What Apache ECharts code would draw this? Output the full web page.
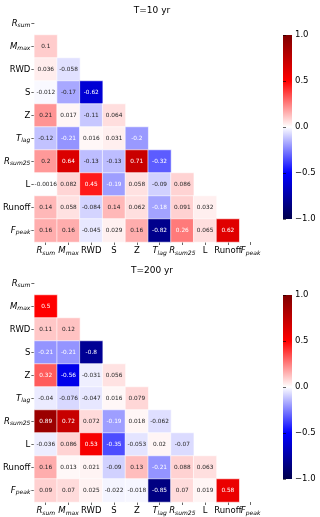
<!DOCTYPE html>
<html>
<head>
<meta charset="utf-8">
<script src="https://cdn.jsdelivr.net/npm/echarts@6/dist/echarts.min.js"></script>
<style>
  html, body { margin: 0; padding: 0; background: #fff; }
  #chart { width: 320px; height: 517px; }
</style>
</head>
<body>
<div id="chart"></div>
<script>
// variable names, rows of the lower triangle (row i holds columns 0..i-1)
const vars = ["R_sum", "M_max", "RWD", "S", "Z", "T_lag", "R_sum25", "L", "Runoff", "F_peak"];
const titles = ["T=10 yr", "T=200 yr"];
const cbTicks = [-1, -0.5, 0, 0.5, 1];

const corr10 = [
  [],
  [0.1],
  [0.036, -0.058],
  [-0.012, -0.17, -0.62],
  [0.21, 0.017, -0.11, 0.064],
  [-0.12, -0.21, 0.016, 0.031, -0.2],
  [0.2, 0.64, -0.13, -0.13, 0.71, -0.32],
  [-0.0016, 0.082, 0.45, -0.19, 0.058, -0.09, 0.086],
  [0.14, 0.058, -0.084, 0.14, 0.062, -0.18, 0.091, 0.032],
  [0.16, 0.16, -0.045, 0.029, 0.16, -0.82, 0.26, 0.065, 0.62]
];
const corr200 = [
  [],
  [0.5],
  [0.11, 0.12],
  [-0.21, -0.21, -0.8],
  [0.32, -0.56, -0.031, 0.056],
  [-0.04, -0.076, -0.047, 0.016, 0.079],
  [0.89, 0.72, 0.072, -0.19, 0.018, -0.062],
  [-0.036, 0.086, 0.53, -0.35, -0.053, 0.02, -0.07],
  [0.16, 0.013, 0.021, -0.09, 0.13, -0.21, 0.088, 0.063],
  [0.09, 0.07, 0.025, -0.022, -0.018, -0.85, 0.07, 0.019, 0.58]
];

// matplotlib "seismic"
const seismicStops = ["#00004c", "#0000ff", "#ffffff", "#ff0000", "#7f0000"];
const seismicRGB = [[0, 0, 0.3], [0, 0, 1], [1, 1, 1], [1, 0, 0], [0.5, 0, 0]];

function seismic(v) {
  const k = Math.min(255, Math.floor((v + 1) / 2 * 256));
  const t = k / 255 * 4;
  const i = Math.min(3, Math.floor(t));
  const f = t - i;
  return seismicRGB[i].map((c, n) => c + (seismicRGB[i + 1][n] - c) * f);
}
function lum(rgb) {
  const lin = rgb.map(c => (c <= 0.03928 ? c / 12.92 : Math.pow((c + 0.055) / 1.055, 2.4)));
  return 0.2126 * lin[0] + 0.7152 * lin[1] + 0.0722 * lin[2];
}

function buildData(rows) {
  const out = [];
  rows.forEach((row, i) => {
    row.forEach((v, j) => {
      out.push({
        value: [j, i, v],
        label: { color: lum(seismic(v)) > 0.408 ? "#262626" : "#ffffff" }
      });
    });
  });
  return out;
}

function fmtName(name) {
  const p = name.indexOf("_");
  if (p < 0) return "{n|" + name + "}";
  return "{i|" + name.slice(0, p) + "}{s|" + name.slice(p + 1) + "}";
}
const rich = {
  n: { fontSize: 8.5, color: "#000", fontFamily: "DejaVu Sans", verticalAlign: "middle", lineHeight: 10 },
  i: { fontSize: 8.5, color: "#000", fontFamily: "DejaVu Sans", fontStyle: "italic", verticalAlign: "middle", lineHeight: 10 },
  s: { fontSize: 6, color: "#000", fontFamily: "DejaVu Sans", fontStyle: "italic", verticalAlign: "bottom", lineHeight: 10 }
};

const tops = [12, 272];
const cbTops = [35, 295];

const chart = echarts.init(document.getElementById("chart"));
const grid = [], xAxis = [], yAxis = [], series = [], title = [];

tops.forEach((top, k) => {
  grid.push({ left: 32, top: top, width: 230, height: 230 });
  title.push({
    text: titles[k], left: 147, top: top - 11, textAlign: "center",
    textStyle: { fontSize: 9, fontWeight: "normal", color: "#000", fontFamily: "DejaVu Sans" }
  });
  xAxis.push({
    type: "category", gridIndex: k, data: vars,
    axisLine: { show: false },
    axisTick: { show: true, alignWithLabel: true, length: 3, lineStyle: { color: "#000", width: 0.6 } },
    axisLabel: { formatter: fmtName, rich: rich, margin: 4, interval: 0 },
    splitLine: { show: false }
  });
  yAxis.push({
    type: "category", gridIndex: k, data: vars, inverse: true,
    axisLine: { show: false },
    axisTick: { show: true, alignWithLabel: true, length: 3, lineStyle: { color: "#000", width: 0.6 } },
    axisLabel: { formatter: fmtName, rich: rich, margin: 4, interval: 0 },
    splitLine: { show: false }
  });
  series.push({
    type: "heatmap", xAxisIndex: k, yAxisIndex: k,
    data: buildData(k === 0 ? corr10 : corr200),
    itemStyle: { borderColor: "#fff", borderWidth: 0.6 },
    label: {
      show: true, fontSize: 5.8, fontFamily: "DejaVu Sans",
      formatter: p => String(p.value[2])
    },
    emphasis: { disabled: true }
  });
});

// colour bars
cbTops.forEach((top, k) => {
  const gi = 2 + k;
  grid.push({
    left: 283, top: top, width: 9, height: 184, show: true, borderWidth: 0,
    backgroundColor: new echarts.graphic.LinearGradient(0, 0, 0, 1,
      seismicStops.slice().reverse().map((c, n) => ({ offset: n / 4, color: c })))
  });
  xAxis.push({ type: "value", gridIndex: gi, show: false, min: 0, max: 1 });
  yAxis.push({
    type: "value", gridIndex: gi, position: "right", min: -1, max: 1, interval: 0.5,
    axisLine: { show: false },
    axisTick: { show: true, length: 3, lineStyle: { color: "#000", width: 0.6 } },
    splitLine: { show: false },
    axisLabel: {
      margin: 3, fontSize: 8.5, color: "#000", fontFamily: "DejaVu Sans",
      formatter: v => (cbTicks.indexOf(v) >= 0 ? v.toFixed(1).replace("-", "\u2212") : "")
    }
  });
});

chart.setOption({
  animation: false,
  backgroundColor: "#fff",
  title: title,
  grid: grid,
  xAxis: xAxis,
  yAxis: yAxis,
  visualMap: {
    show: false, type: "continuous", min: -1, max: 1, seriesIndex: [0, 1], dimension: 2,
    inRange: { color: seismicStops }
  },
  series: series
});
</script>
</body>
</html>
